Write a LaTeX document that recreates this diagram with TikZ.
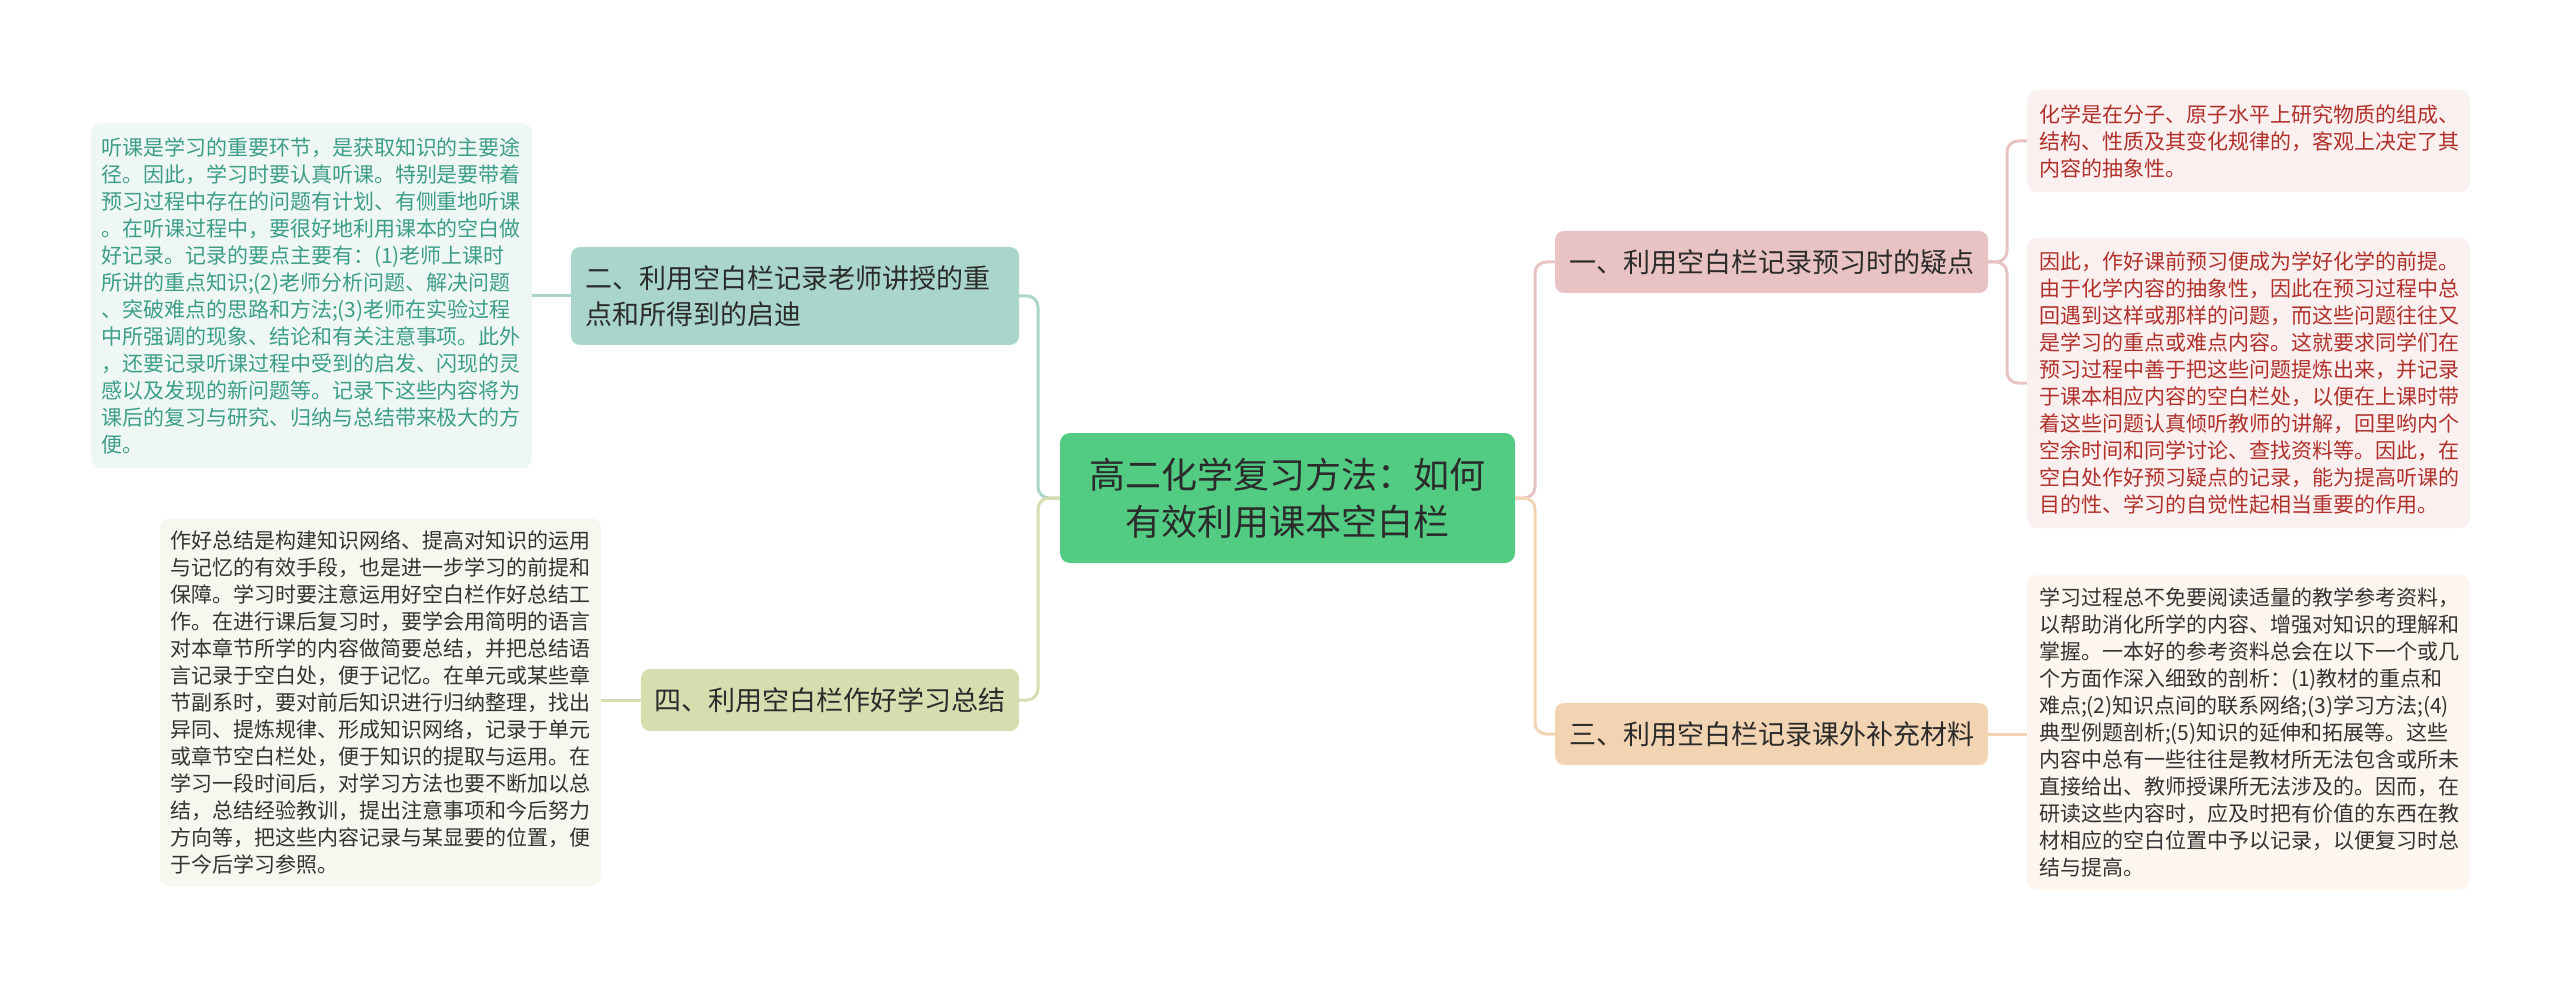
\documentclass[tikz,border=0pt]{standalone}
\usepackage{fontspec}
\setmainfont{Noto Sans CJK SC}
\definecolor{cgreen}{HTML}{52CC83}
\definecolor{cteal}{HTML}{A9D5CB}
\definecolor{colive}{HTML}{D8DDB0}
\definecolor{cpink}{HTML}{E9C3C3}
\definecolor{cpeach}{HTML}{F2D4B3}
\definecolor{ltealbg}{HTML}{EFF7F5}
\definecolor{ltealtx}{HTML}{3D9E87}
\definecolor{lolivebg}{HTML}{F6F7EF}
\definecolor{lpinkbg}{HTML}{FAF0F0}
\definecolor{lpinktx}{HTML}{B0302B}
\definecolor{lpeachbg}{HTML}{FDF6EE}
\definecolor{darktx}{HTML}{333333}
\definecolor{branchtx}{HTML}{2B2B2B}
\begin{document}
\begin{tikzpicture}[x=1pt,y=-1pt,
  leaf/.style={rounded corners=10pt, inner ysep=0pt, align=left, anchor=center,
    font=\fontsize{21}{27}\selectfont},
  branch/.style={rounded corners=9pt, inner ysep=0pt, anchor=center, text=branchtx,
    font=\fontsize{27}{36}\selectfont},
  root/.style={rounded corners=10pt, inner ysep=0pt, anchor=center, align=center, fill=cgreen,
    text=branchtx, font=\fontsize{36}{47}\selectfont},
  conn/.style={line width=3pt, rounded corners=11pt}
]
\useasboundingbox (0,0) rectangle (2560,984);

% root
\node[root, minimum width=455pt, minimum height=130pt, text width=435pt] (c) at (1287.5,498)
  {高二化学复习方法：如何\\有效利用课本空白栏};

% branches
\node[branch, fill=cteal, minimum width=448pt, minimum height=98pt, inner xsep=14pt,
  text width=420pt, align=left] (b2) at (795,296)
  {二、利用空白栏记录老师讲授的重\\点和所得到的启迪};
\node[branch, fill=colive, minimum width=378pt, minimum height=62pt, inner xsep=12pt,
  text width=354pt, align=center] (b4) at (830,700)
  {四、利用空白栏作好学习总结};
\node[branch, fill=cpink, minimum width=433pt, minimum height=62pt, inner xsep=12pt,
  text width=409pt, align=center] (b1) at (1771.5,262)
  {一、利用空白栏记录预习时的疑点};
\node[branch, fill=cpeach, minimum width=433pt, minimum height=62pt, inner xsep=12pt,
  text width=409pt, align=center] (b3) at (1771.5,734)
  {三、利用空白栏记录课外补充材料};

% leaves
\node[leaf, fill=ltealbg, text=ltealtx, minimum width=441pt, minimum height=345pt,
  inner xsep=10pt, text width=421pt] (l2) at (311.5,295.5)
  {听课是学习的重要环节，是获取知识的主要途\\
   径。因此，学习时要认真听课。特别是要带着\\
   预习过程中存在的问题有计划、有侧重地听课\\
   。在听课过程中，要很好地利用课本的空白做\\
   好记录。记录的要点主要有：(1)老师上课时\\
   所讲的重点知识;(2)老师分析问题、解决问题\\
   、突破难点的思路和方法;(3)老师在实验过程\\
   中所强调的现象、结论和有关注意事项。此外\\
   ，还要记录听课过程中受到的启发、闪现的灵\\
   感以及发现的新问题等。记录下这些内容将为\\
   课后的复习与研究、归纳与总结带来极大的方\\
   便。};
\node[leaf, fill=lolivebg, text=darktx, minimum width=441pt, minimum height=368pt,
  inner xsep=10pt, text width=421pt] (l4) at (380.5,702)
  {作好总结是构建知识网络、提高对知识的运用\\
   与记忆的有效手段，也是进一步学习的前提和\\
   保障。学习时要注意运用好空白栏作好总结工\\
   作。在进行课后复习时，要学会用简明的语言\\
   对本章节所学的内容做简要总结，并把总结语\\
   言记录于空白处，便于记忆。在单元或某些章\\
   节副系时，要对前后知识进行归纳整理，找出\\
   异同、提炼规律、形成知识网络，记录于单元\\
   或章节空白栏处，便于知识的提取与运用。在\\
   学习一段时间后，对学习方法也要不断加以总\\
   结，总结经验教训，提出注意事项和今后努力\\
   方向等，把这些内容记录与某显要的位置，便\\
   于今后学习参照。};
\node[leaf, fill=lpinkbg, text=lpinktx, minimum width=443pt, minimum height=102pt,
  inner xsep=12pt, text width=419pt] (r1) at (2248.5,141)
  {化学是在分子、原子水平上研究物质的组成、\\
   结构、性质及其变化规律的，客观上决定了其\\
   内容的抽象性。};
\node[leaf, fill=lpinkbg, text=lpinktx, minimum width=443pt, minimum height=290pt,
  inner xsep=12pt, text width=419pt] (r2) at (2248.5,383)
  {因此，作好课前预习便成为学好化学的前提。\\
   由于化学内容的抽象性，因此在预习过程中总\\
   回遇到这样或那样的问题，而这些问题往往又\\
   是学习的重点或难点内容。这就要求同学们在\\
   预习过程中善于把这些问题提炼出来，并记录\\
   于课本相应内容的空白栏处，以便在上课时带\\
   着这些问题认真倾听教师的讲解，回里哟内个\\
   空余时间和同学讨论、查找资料等。因此，在\\
   空白处作好预习疑点的记录，能为提高听课的\\
   目的性、学习的自觉性起相当重要的作用。};
\node[leaf, fill=lpeachbg, text=darktx, minimum width=443pt, minimum height=315pt,
  inner xsep=12pt, text width=419pt] (r3) at (2248.5,732.5)
  {学习过程总不免要阅读适量的教学参考资料，\\
   以帮助消化所学的内容、增强对知识的理解和\\
   掌握。一本好的参考资料总会在以下一个或几\\
   个方面作深入细致的剖析：(1)教材的重点和\\
   难点;(2)知识点间的联系网络;(3)学习方法;(4)\\
   典型例题剖析;(5)知识的延伸和拓展等。这些\\
   内容中总有一些往往是教材所无法包含或所未\\
   直接给出、教师授课所无法涉及的。因而，在\\
   研读这些内容时，应及时把有价值的东西在教\\
   材相应的空白位置中予以记录，以便复习时总\\
   结与提高。};

% junction coordinates
\coordinate (tl) at (1038,498);
\coordinate (tr) at (1535,498);
\coordinate (tr1) at (2007,262);

% connectors
\draw[conn, cteal] (c.west) -- (tl) |- (b2.east);
\draw[conn, colive] (c.west) -- (tl) |- (b4.east);
\draw[conn, cpink] (c.east) -- (tr) |- (b1.west);
\draw[conn, cpeach] (c.east) -- (tr) |- (b3.west);
\draw[conn, cteal] (b2.west) -- (b2.west -| l2.east);
\draw[conn, colive] (b4.west) -- (b4.west -| l4.east);
\draw[conn, cpink] (b1.east) -- (tr1) |- (r1.west);
\draw[conn, cpink] (b1.east) -- (tr1) |- (r2.west);
\draw[conn, cpeach] (b3.east) -- (b3.east -| r3.west);
\end{tikzpicture}
\end{document}
